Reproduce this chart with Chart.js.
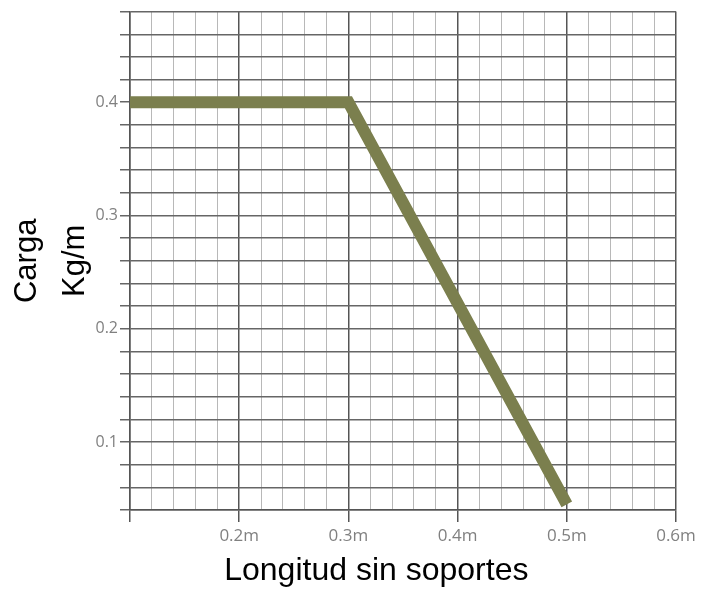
<!DOCTYPE html>
<html>
<head>
<meta charset="utf-8">
<script src="https://cdn.jsdelivr.net/npm/chart.js@4"></script>
<style>
  body { margin: 0; background: #fff; }
</style>
</head>
<body>
<canvas id="myChart" width="703" height="590"></canvas>
<script>
// longitud (m) y carga (kg/m)
var longitud = [0.1, 0.3, 0.5];
var carga = [0.4, 0.4, 0.045];

var xTitle = 'Longitud sin soportes\u00a0\u00a0\u00a0\u00a0\u00a0\u00a0';
var yTitle = ['Carga', 'Kg/m'];

function isMajor(v) {
    return Math.abs(v * 10 - Math.round(v * 10)) < 1e-6;
}

var c = document.getElementById("myChart");
var ctx = c.getContext("2d");

var chart = new Chart(ctx, {
    type: 'line',
    data: {
        datasets: [{
            data: longitud.map(function (x, i) { return {x: x, y: carga[i]}; }),
            borderColor: '#7b7f4e',
            borderWidth: 12,
            borderJoinStyle: 'miter',
            borderCapStyle: 'butt',
            pointRadius: 0,
            fill: false,
            tension: 0
        }]
    },
    options: {
        responsive: false,
        animation: false,
        layout: { padding: { top: 9, right: 27, left: 0, bottom: 0 } },
        plugins: { legend: { display: false }, tooltip: { enabled: false } },
        scales: {
            x: {
                type: 'linear',
                min: 0.1,
                max: 0.6,
                afterFit: function (s) { s.height = 80; },
                border: { color: '#555', width: 1.5 },
                grid: {
                    color: function (c) { return isMajor(c.tick.value) ? '#555' : '#b8b8b8'; },
                    lineWidth: function (c) { return isMajor(c.tick.value) ? 1.5 : 1; },
                    tickColor: function (c) { return isMajor(c.tick.value) ? '#555' : 'rgba(0,0,0,0)'; },
                    tickLength: 12
                },
                ticks: {
                    stepSize: 0.02,
                    autoSkip: false,
                    maxRotation: 0,
                    padding: 4,
                    color: '#808080',
                    font: { family: 'Open Sans', size: 17 },
                    callback: function (v) {
                        return (isMajor(v) && v > 0.15) ? v.toFixed(1) + 'm' : '';
                    }
                },
                title: {
                    display: true,
                    text: xTitle,
                    color: '#000',
                    font: { family: 'Liberation Sans', size: 32, lineHeight: 1.15 },
                    padding: { top: 0, bottom: 0 }
                }
            },
            y: {
                type: 'linear',
                min: 0.04,
                max: 0.48,
                afterFit: function (s) { s.width = 130; },
                border: { color: '#555', width: 1.5 },
                grid: {
                    color: '#666',
                    lineWidth: 1.5,
                    tickLength: 10
                },
                ticks: {
                    stepSize: 0.02,
                    autoSkip: false,
                    padding: 2,
                    color: '#808080',
                    font: { family: 'Open Sans', size: 16 },
                    callback: function (v) {
                        return isMajor(v) ? v.toFixed(1) : '';
                    }
                },
                title: {
                    display: true,
                    text: yTitle,
                    color: '#000',
                    font: { family: 'Liberation Sans', size: 31, lineHeight: 1.55 },
                    padding: { top: 3, bottom: 0 }
                }
            }
        }
    }
});
</script>
</body>
</html>
